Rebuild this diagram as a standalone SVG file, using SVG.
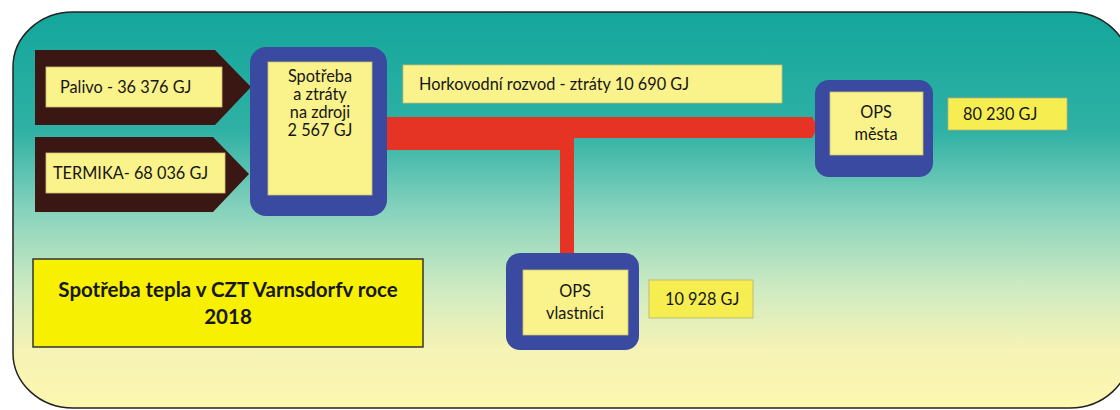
<svg xmlns="http://www.w3.org/2000/svg" width="1120" height="410" viewBox="0 0 1120 410">
<style>
text{font-family:Lato,"Open Sans","Liberation Sans",sans-serif;fill:#161616}
.t{font-size:16.3px}
.c{text-anchor:middle}
.arrow{fill:#3b1713}
.inner{fill:#faf28a;stroke:#c9c070;stroke-width:0.8}
.blue{fill:#3a4aa0}
.lbl{fill:#f6ee50;stroke:#b8b070;stroke-width:0.8}
.pipe{fill:#e53423}
</style>
<defs>
<linearGradient id="bg" x1="0" y1="0" x2="0" y2="1">
<stop offset="0" stop-color="#14a69c"/>
<stop offset="0.3" stop-color="#2fb1a4"/>
<stop offset="0.5" stop-color="#86d2bd"/>
<stop offset="0.7" stop-color="#cfebc2"/>
<stop offset="0.85" stop-color="#f5f3b5"/>
<stop offset="1" stop-color="#fdf7ae"/>
</linearGradient>
</defs>
<rect width="1120" height="410" fill="#ffffff"/>
<rect id="panel" x="13" y="12" width="1117" height="396" rx="60" ry="55" fill="url(#bg)" stroke="#222" stroke-width="1.5"/>

<g id="connectors">
<path class="pipe" d="M387 117 H812 L818 127 L812 138 H574 V254 H560 V150 H387 Z"/>
</g>

<g id="palivo">
<polygon class="arrow" points="35,50 215,50 251,87 215,125 35,125"/>
<rect class="inner" x="46" y="67" width="176" height="40"/>
<text class="t" x="60" y="93">Palivo - 36 376 GJ</text>
</g>

<g id="termika">
<polygon class="arrow" points="35,137 213,137 249,174 213,212 35,212"/>
<rect class="inner" x="46" y="153" width="179" height="40"/>
<text class="t" x="53" y="179">TERMIKA- 68 036 GJ</text>
</g>

<g id="zdroj">
<rect class="blue" x="250" y="47" width="137" height="169" rx="16"/>
<rect class="inner" x="268" y="62" width="104" height="133"/>
<text class="t c" x="320" y="82">Spotřeba</text>
<text class="t c" x="320" y="100">a ztráty</text>
<text class="t c" x="320" y="118">na zdroji</text>
<text class="t c" x="320" y="136">2 567 GJ</text>
</g>

<g id="horkovod">
<rect class="inner" x="403" y="65" width="379" height="38"/>
<text class="t" x="419" y="90">Horkovodní rozvod - ztráty 10 690 GJ</text>
</g>

<g id="ops-mesta">
<rect class="blue" x="815" y="80" width="118" height="97" rx="14"/>
<rect class="inner" x="830" y="92" width="93" height="63"/>
<text class="t c" x="876" y="118">OPS</text>
<text class="t c" x="876" y="140">města</text>
</g>

<g id="mesta-gj">
<rect class="lbl" x="948" y="98" width="119" height="32"/>
<text class="t" x="963" y="120">80 230 GJ</text>
</g>

<g id="ops-vlastnici">
<rect class="blue" x="506" y="253" width="133" height="97" rx="14"/>
<rect class="inner" x="523" y="270" width="105" height="65"/>
<text class="t c" x="575" y="297">OPS</text>
<text class="t c" x="575" y="319">vlastníci</text>
</g>

<g id="vlastnici-gj">
<rect class="lbl" x="649" y="280" width="104" height="38"/>
<text class="t" x="665" y="305">10 928 GJ</text>
</g>

<g id="title">
<rect x="33" y="259" width="390" height="88" fill="#f7f000" stroke="#333" stroke-width="1.5"/>
<text class="c" x="228" y="297" font-size="20.5" font-weight="bold">Spotřeba tepla v CZT Varnsdorfv roce</text>
<text class="c" x="228" y="324" font-size="20.5" font-weight="bold">2018</text>
</g>
</svg>
